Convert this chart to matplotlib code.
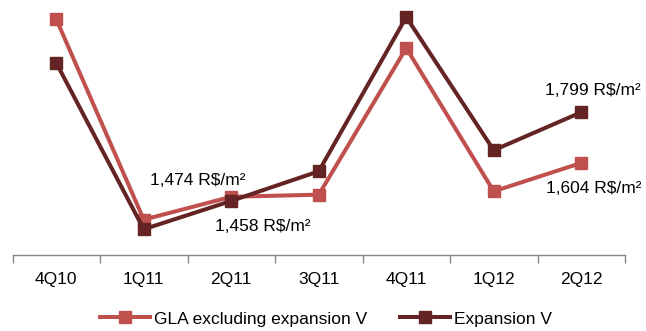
import matplotlib
matplotlib.use("Agg")
import matplotlib.pyplot as plt
from matplotlib.ticker import FixedLocator, NullFormatter

plt.rcParams['font.family'] = ['Liberation Sans', 'DejaVu Sans']

quarters = ["4Q10", "1Q11", "2Q11", "3Q11", "4Q11", "1Q12", "2Q12"]
gla_excl = [2157, 1386, 1474, 1482, 2046, 1495, 1604]
expansion = [1989, 1349, 1458, 1572, 2165, 1653, 1799]

c_gla = "#C0504D"
c_exp = "#632423"
fs = 12.5

fig = plt.figure(figsize=(6.46, 3.31), dpi=100)
ax = fig.add_axes([12.5 / 646, 76 / 331, 612.5 / 646, 247 / 331])

x = list(range(len(quarters)))
ax.plot(x, gla_excl, color=c_gla, lw=2.9, marker="s", ms=9,
        label="GLA excluding expansion V", zorder=3)
ax.plot(x, expansion, color=c_exp, lw=2.9, marker="s", ms=9,
        label="Expansion V", zorder=4)

ax.set_xlim(-0.5, len(quarters) - 0.5)
ax.set_ylim(1250, 2200)

for s in ("top", "right", "left"):
    ax.spines[s].set_visible(False)
ax.spines["bottom"].set_color("#868686")
ax.spines["bottom"].set_linewidth(1.0)
ax.set_yticks([])

ax.set_xticks(x)
ax.set_xticklabels(quarters, fontsize=fs)
ax.tick_params(axis="x", which="major", length=0, pad=12)
ax.xaxis.set_minor_locator(FixedLocator([i - 0.5 for i in range(len(quarters) + 1)]))
ax.xaxis.set_minor_formatter(NullFormatter())
ax.tick_params(axis="x", which="minor", length=6, width=1.0, color="#868686", direction="out")

fmt = lambda v: f"{v:,} R$/m²"
lab_kw = dict(textcoords="offset pixels", ha="center", va="center", fontsize=fs)
ax.annotate(fmt(gla_excl[2]), (2, gla_excl[2]), xytext=(-33, 16), **lab_kw)
ax.annotate(fmt(expansion[2]), (2, expansion[2]), xytext=(32, -26), **lab_kw)
ax.annotate(fmt(expansion[6]), (6, expansion[6]), xytext=(12, 22), **lab_kw)
ax.annotate(fmt(gla_excl[6]), (6, gla_excl[6]), xytext=(12, -26), **lab_kw)

fig.legend(loc="center", bbox_to_anchor=(326 / 646, 1 - 319 / 331), ncol=2,
           frameon=False, fontsize=fs, handlelength=2.9, columnspacing=1.9,
           handletextpad=0.2)

fig.savefig("out.png", dpi=100)
